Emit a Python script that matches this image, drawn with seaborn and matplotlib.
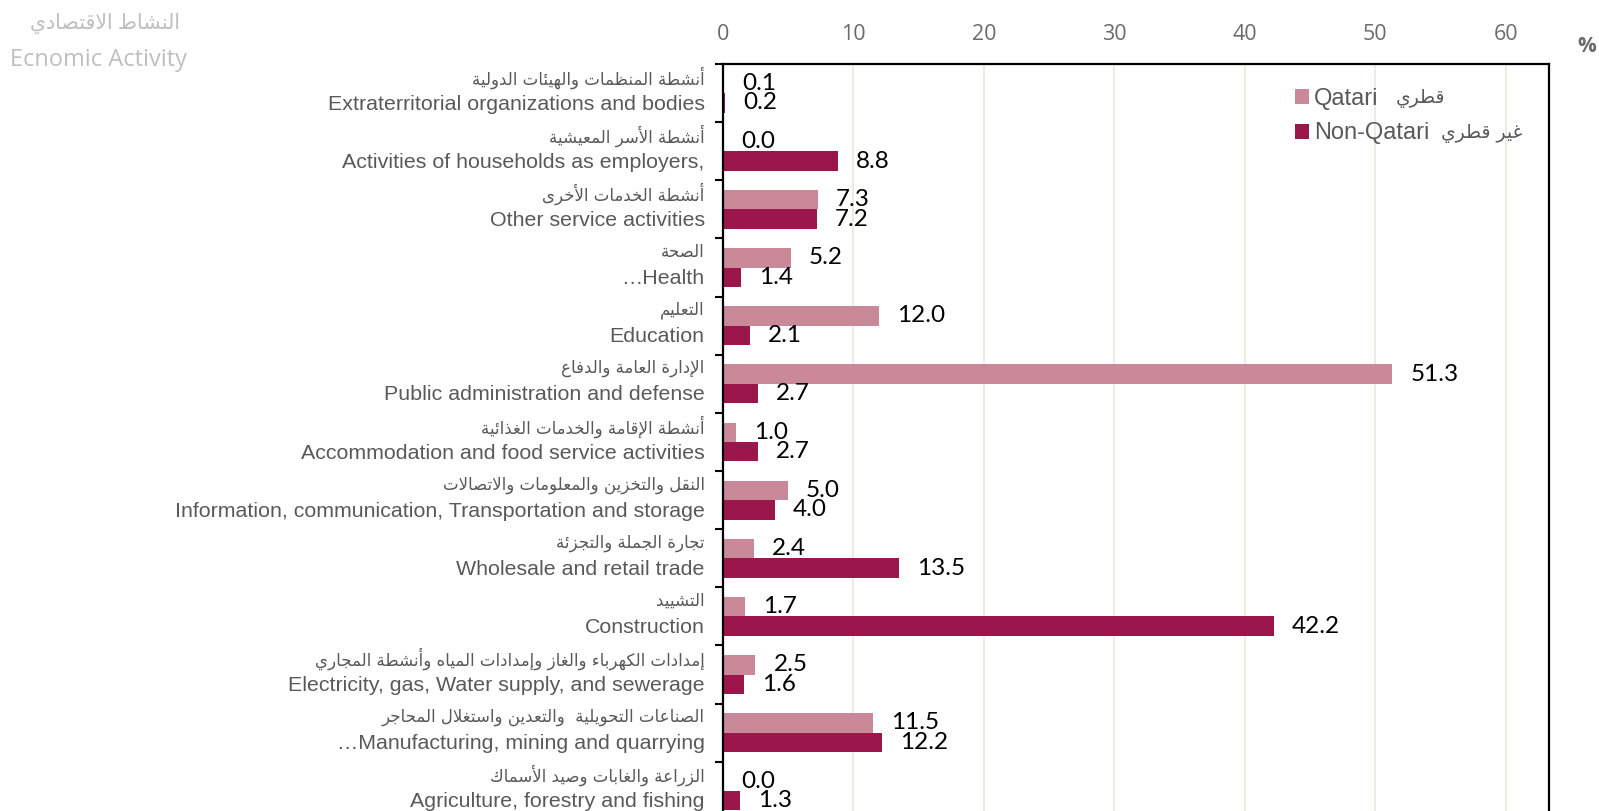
import matplotlib
matplotlib.use("Agg")
import matplotlib.pyplot as plt
from matplotlib.patches import Patch
from matplotlib.font_manager import FontProperties
from matplotlib.ticker import FixedLocator
from matplotlib.transforms import ScaledTranslation
import seaborn as sns
import pandas as pd

# ---- data -------------------------------------------------------------
activities_en = [
    "Extraterritorial organizations and bodies",
    "Activities of households as employers,",
    "Other service activities",
    "\u2026Health",
    "Education",
    "Public administration and defense",
    "Accommodation and food service activities",
    "Information, communication, Transportation and storage",
    "Wholesale and retail trade",
    "Construction",
    "Electricity, gas, Water supply, and sewerage",
    "\u2026Manufacturing, mining and quarrying",
    "Agriculture, forestry and fishing",
]
activities_ar = [
    "أنشطة المنظمات والهيئات الدولية",
    "أنشطة الأسر المعيشية",
    "أنشطة الخدمات الأخرى",
    "الصحة",
    "التعليم",
    "الإدارة العامة والدفاع",
    "أنشطة الإقامة والخدمات الغذائية",
    "النقل والتخزين والمعلومات والاتصالات",
    "تجارة الجملة والتجزئة",
    "التشييد",
    "إمدادات الكهرباء والغاز وإمدادات المياه وأنشطة المجاري",
    "الصناعات التحويلية  والتعدين واستغلال المحاجر",
    "الزراعة والغابات وصيد الأسماك",
]
qatari = [0.1, 0.0, 7.3, 5.2, 12.0, 51.3, 1.0, 5.0, 2.4, 1.7, 2.5, 11.5, 0.0]
non_qatari = [0.2, 8.8, 7.2, 1.4, 2.1, 2.7, 2.7, 4.0, 13.5, 42.2, 1.6, 12.2, 1.3]
groups_en = ["Qatari", "Non-Qatari"]
groups_ar = ["قطري", "غير قطري"]
x_ticks = [0, 10, 20, 30, 40, 50, 60]
title_ar = "النشاط الاقتصادي"
title_en = "Ecnomic Activity"

# ---- Arabic shaping (presentation forms + right-to-left order) --------
_FORMS = {
    "\u0621": (0xFE80, "N"), "\u0622": (0xFE81, "R"), "\u0623": (0xFE83, "R"),
    "\u0624": (0xFE85, "R"), "\u0625": (0xFE87, "R"), "\u0626": (0xFE89, "D"),
    "\u0627": (0xFE8D, "R"), "\u0628": (0xFE8F, "D"), "\u0629": (0xFE93, "R"),
    "\u062A": (0xFE95, "D"), "\u062B": (0xFE99, "D"), "\u062C": (0xFE9D, "D"),
    "\u062D": (0xFEA1, "D"), "\u062E": (0xFEA5, "D"), "\u062F": (0xFEA9, "R"),
    "\u0630": (0xFEAB, "R"), "\u0631": (0xFEAD, "R"), "\u0632": (0xFEAF, "R"),
    "\u0633": (0xFEB1, "D"), "\u0634": (0xFEB5, "D"), "\u0635": (0xFEB9, "D"),
    "\u0636": (0xFEBD, "D"), "\u0637": (0xFEC1, "D"), "\u0638": (0xFEC5, "D"),
    "\u0639": (0xFEC9, "D"), "\u063A": (0xFECD, "D"), "\u0641": (0xFED1, "D"),
    "\u0642": (0xFED5, "D"), "\u0643": (0xFED9, "D"), "\u0644": (0xFEDD, "D"),
    "\u0645": (0xFEE1, "D"), "\u0646": (0xFEE5, "D"), "\u0647": (0xFEE9, "D"),
    "\u0648": (0xFEED, "R"), "\u0649": (0xFEEF, "R"), "\u064A": (0xFEF1, "D"),
}
_LAM_ALEF = {"\u0622": 0xFEF5, "\u0623": 0xFEF7, "\u0625": 0xFEF9, "\u0627": 0xFEFB}


def shape_ar(text):
    units = []
    i = 0
    while i < len(text):
        ch = text[i]
        if ch == "\u0644" and i + 1 < len(text) and text[i + 1] in _LAM_ALEF:
            units.append((_LAM_ALEF[text[i + 1]], "R"))
            i += 2
            continue
        if ch in _FORMS:
            units.append(_FORMS[ch])
        else:
            units.append((ch, None))
        i += 1
    out = []
    for k, (base, kind) in enumerate(units):
        if kind is None:
            out.append(base)
            continue
        prev_join = k > 0 and units[k - 1][1] == "D"
        next_join = (kind == "D" and k + 1 < len(units)
                     and units[k + 1][1] in ("D", "R"))
        if kind == "D":
            off = 3 if (prev_join and next_join) else 1 if prev_join else 2 if next_join else 0
        elif kind == "R":
            off = 1 if prev_join else 0
        else:
            off = 0
        out.append(chr(base + off))
    return "".join(reversed(out))


# ---- styling ----------------------------------------------------------
sns.set_style("white")
plt.rcParams["font.family"] = ["Liberation Sans", "DejaVu Sans"]

c_qatari = "#C98998"
c_non = "#9B164B"
label_grey = "#595959"
ar_family = ["DejaVu Sans"]

df = pd.DataFrame({
    "activity": activities_en * 2,
    "group": [groups_en[0]] * len(qatari) + [groups_en[1]] * len(non_qatari),
    "share": qatari + non_qatari,
})

W, H = 1599, 811
fig = plt.figure(figsize=(W / 100, H / 100), dpi=100)
ax = fig.add_axes([0.452, -0.011, 0.5167, 0.932])

sns.barplot(data=df, y="activity", x="share", hue="group", order=activities_en,
            hue_order=groups_en, palette=[c_qatari, c_non], orient="h",
            width=0.67, gap=0, linewidth=0, saturation=1, legend=False, ax=ax)

# value labels at the end of each bar
for cont in ax.containers:
    ax.bar_label(cont, fmt="%.1f", padding=13, fontsize=17.5,
                 family=["Lato", "DejaVu Sans"], color="black")

# axes, ticks, grid
ax.set_xlim(0, 63.3)
ax.set_ylim(len(activities_en) - 0.5, -0.5)
ax.set_xlabel("")
ax.set_ylabel("")
ax.xaxis.tick_top()
ax.set_xticks(x_ticks)
ax.set_xticklabels([str(t) for t in x_ticks], family="Open Sans", fontsize=15.5,
                   color="#6B6B6B")
ax.tick_params(axis="x", length=0, pad=13.5)
ax.grid(axis="x", color="#ECE9DF", linewidth=1.3)
ax.grid(axis="y", visible=False)
ax.set_axisbelow(True)

# English category names as tick labels, Arabic names on the line above
ax.set_yticks(range(len(activities_en)))
ax.set_yticklabels(activities_en, fontsize=15.4, color=label_grey)
ax.tick_params(axis="y", which="major", length=0, pad=13)
shift_down = ScaledTranslation(0, -6.5 / 72, fig.dpi_scale_trans)
for lab in ax.get_yticklabels():
    lab.set_transform(lab.get_transform() + shift_down)
for i, name_ar in enumerate(activities_ar):
    ax.annotate(shape_ar(name_ar), xy=(0, i), xycoords=ax.get_yaxis_transform(),
                xytext=(-13, 11.2), textcoords="offset points", ha="right",
                va="center", fontsize=12, color=label_grey, family=ar_family)

ax.yaxis.set_minor_locator(FixedLocator([i - 0.5 for i in range(len(activities_en) + 1)]))
ax.tick_params(axis="y", which="minor", length=6, width=1.5, direction="out",
               color="black", left=True)

for side in ("left", "top", "right"):
    ax.spines[side].set_visible(True)
    ax.spines[side].set_color("black")
    ax.spines[side].set_linewidth(1.6)
ax.spines["bottom"].set_visible(False)

# legend: English labels, Arabic names placed after each entry
handles = [Patch(facecolor=c_qatari, edgecolor="none"),
           Patch(facecolor=c_non, edgecolor="none")]
leg = ax.legend(handles, groups_en, loc="upper left", bbox_to_anchor=(0.693, 0.969),
                frameon=False, handlelength=0.6, handleheight=0.6, handletextpad=0.2,
                labelspacing=0.55, borderpad=0, borderaxespad=0,
                prop=FontProperties(family="Liberation Sans", size=17),
                labelcolor=label_grey)
fig.canvas.draw()
renderer = fig.canvas.get_renderer()
for txt, name_ar, gap_px in zip(leg.get_texts(), groups_ar, (17, 11)):
    bb = txt.get_window_extent(renderer)
    fig.text((bb.x1 + gap_px) / W, (bb.y0 + bb.y1) / 2 / H, shape_ar(name_ar),
             ha="left", va="center", fontsize=13.5, color=label_grey,
             family=ar_family)

# header and unit
fig.text(105 / W, 1 - 23 / H, shape_ar(title_ar), ha="center", va="center",
         fontsize=14.8, color="#BFBFBF", family=["Open Sans", "DejaVu Sans"])
fig.text(98 / W, 1 - 60 / H, title_en, ha="center", va="center",
         fontsize=17, color="#BFBFBF", family="Open Sans")
fig.text(1587 / W, 1 - 47 / H, "%", ha="center", va="center",
         fontsize=15, color="#6B6B6B", family="Open Sans", fontweight="bold")

fig.savefig("out.png", dpi=100)
